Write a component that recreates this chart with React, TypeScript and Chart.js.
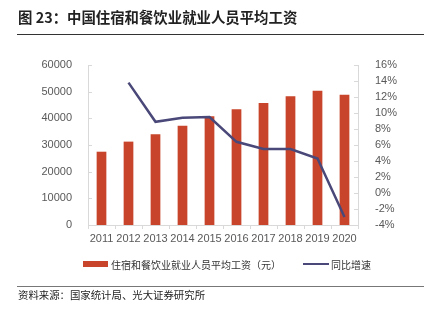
import React, { useEffect, useRef } from "react";
import { Chart, registerables } from "chart.js";

Chart.register(...registerables);

const years = ["2011", "2012", "2013", "2014", "2015", "2016", "2017", "2018", "2019", "2020"];
const wages = [27486, 31267, 34044, 37264, 40806, 43382, 45751, 48260, 50346, 48833];
const growth = [null, 13.8, 8.9, 9.4, 9.5, 6.4, 5.5, 5.5, 4.3, -3.0];
const leftTicks = [0, 10000, 20000, 30000, 40000, 50000, 60000];
const rightTicks = [-4, -2, 0, 2, 4, 6, 8, 10, 12, 14, 16];

const BAR_COLOR = "#C8442A";
const LINE_COLOR = "#4A4878";
const AXIS_COLOR = "#D9D9D9";
const TEXT_COLOR = "#595959";
const FONT = "'Liberation Sans', Arial, sans-serif";
const CJK = "'Noto Sans CJK SC', 'Liberation Sans', sans-serif";

const innerTicks = {
  id: "innerTicks",
  afterDraw(chart: any) {
    const ctx = chart.ctx;
    const l = chart.scales.y;
    const r = chart.scales.y1;
    ctx.save();
    ctx.strokeStyle = AXIS_COLOR;
    ctx.lineWidth = 1;
    ctx.beginPath();
    l.ticks.forEach((_: any, i: number) => {
      const y = Math.round(l.getPixelForTick(i)) + 0.5;
      ctx.moveTo(l.right, y);
      ctx.lineTo(l.right + 4, y);
    });
    r.ticks.forEach((_: any, i: number) => {
      const y = Math.round(r.getPixelForTick(i)) + 0.5;
      ctx.moveTo(r.left - 4, y);
      ctx.lineTo(r.left, y);
    });
    ctx.stroke();
    ctx.restore();
  },
};

export default function App() {
  const ref = useRef<HTMLCanvasElement>(null);
  useEffect(() => {
    document.body.style.margin = "0";
    const chart = new Chart(ref.current!, {
      type: "bar",
      data: {
        labels: years,
        datasets: [
          {
            type: "line",
            label: "同比增速",
            data: growth as any,
            borderColor: LINE_COLOR,
            backgroundColor: LINE_COLOR,
            borderWidth: 2.5,
            pointRadius: 0,
            yAxisID: "y1",
            tension: 0,
            order: 0,
          },
          {
            type: "bar",
            label: "住宿和餐饮业就业人员平均工资（元）",
            data: wages,
            backgroundColor: BAR_COLOR,
            barPercentage: 0.9,
            categoryPercentage: 0.4,
            yAxisID: "y",
            order: 1,
          },
        ],
      },
      options: {
        animation: false,
        responsive: false,
        maintainAspectRatio: false,
        layout: { padding: { top: 65, bottom: 72, left: 0, right: 0 } },
        plugins: { legend: { display: false }, tooltip: { enabled: false } },
        scales: {
          x: {
            offset: true,
            grid: { display: true, drawOnChartArea: false, drawTicks: true, tickLength: 4, color: AXIS_COLOR, offset: true },
            border: { color: AXIS_COLOR },
            ticks: { color: TEXT_COLOR, font: { family: FONT, size: 11 }, padding: 3, maxRotation: 0, autoSkip: false },
            afterFit: (s: any) => { s.height = 24; },
          },
          y: {
            position: "left",
            min: 0,
            max: 60000,
            afterBuildTicks: (s: any) => { s.ticks = leftTicks.map((v) => ({ value: v })); },
            grid: { display: false },
            border: { color: AXIS_COLOR },
            ticks: { color: TEXT_COLOR, font: { family: FONT, size: 11 }, padding: 8, autoSkip: false, callback: (v: any) => String(v) },
            afterFit: (s: any) => { s.width = 88; },
          },
          y1: {
            position: "right",
            min: -4,
            max: 16,
            afterBuildTicks: (s: any) => { s.ticks = rightTicks.map((v) => ({ value: v })); },
            grid: { display: false },
            border: { color: AXIS_COLOR },
            ticks: { color: TEXT_COLOR, font: { family: FONT, size: 11 }, padding: 9, autoSkip: false, callback: (v: any) => v + "%" },
            afterFit: (s: any) => { s.width = 69; },
          },
        },
      },
      plugins: [innerTicks],
    });
    return () => chart.destroy();
  }, []);

  return (
    <div style={{ position: "relative", width: 427, height: 321, background: "#fff", overflow: "hidden" }}>
      <canvas ref={ref} width={427} height={321} style={{ position: "absolute", left: 0, top: 0 }} />
      <div style={{ position: "absolute", left: 18, top: 7, fontFamily: CJK, fontWeight: 700, fontSize: 14.4, color: "#222", whiteSpace: "nowrap", lineHeight: "20px" }}>
        图 23：中国住宿和餐饮业就业人员平均工资
      </div>
      <div style={{ position: "absolute", left: 17, top: 34, width: 407, height: 1, background: "#333" }} />
      <div style={{ position: "absolute", left: 83, top: 256, height: 16, display: "flex", alignItems: "center", fontFamily: CJK, fontSize: 10, color: "#333", whiteSpace: "nowrap" }}>
        <span style={{ display: "inline-block", width: 25, height: 6, background: BAR_COLOR, marginRight: 3 }} />
        <span>住宿和餐饮业就业人员平均工资（元）</span>
        <span style={{ display: "inline-block", width: 26, height: 2.5, background: LINE_COLOR, marginLeft: 22, marginRight: 2 }} />
        <span>同比增速</span>
      </div>
      <div style={{ position: "absolute", left: 17, top: 286, width: 407, height: 1, background: "#777" }} />
      <div style={{ position: "absolute", left: 18, top: 287, fontFamily: CJK, fontSize: 10.4, color: "#222", whiteSpace: "nowrap", lineHeight: "15px" }}>
        资料来源：国家统计局、光大证券研究所
      </div>
    </div>
  );
}
